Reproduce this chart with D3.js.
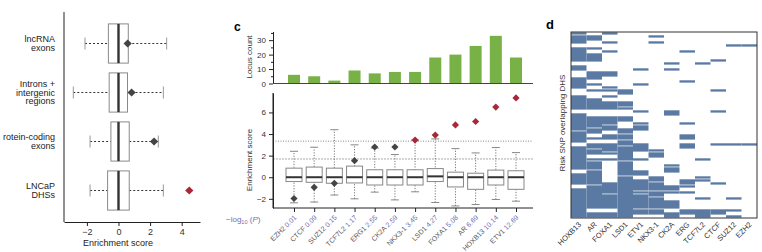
<!DOCTYPE html>
<html>
<head>
<meta charset="utf-8">
<script src="https://cdn.jsdelivr.net/npm/d3@7"></script>
<style>
  body { margin: 0; background: #fff; }
  svg { display: block; font-family: "Liberation Sans", Arial, sans-serif; }
</style>
</head>
<body>
<svg id="chart" width="762" height="252"></svg>
<script>
// panel b: enrichment score per genomic region
var regionLabels = [["lncRNA", "exons"], ["Introns +", "intergenic", "regions"], ["rotein-coding", "exons"], ["LNCaP", "DHSs"]];
var regionLow = [-2.12, -2.86, -1.8, -1.8];
var regionQ1 = [-0.64, -0.59, -0.48, -0.69];
var regionMedian = [0, 0, 0, 0];
var regionQ3 = [0.62, 0.57, 0.68, 0.68];
var regionHigh = [3.05, 2.84, 2.52, 2.84];
var regionScore = [0.58, 0.83, 2.25, 4.48];
var regionSignificant = [false, false, false, true];
var regionTicks = [-2, 0, 2, 4];

// panel c: factors, locus counts and enrichment boxes
var factors = ["EZH2", "CTCF", "SUZ12", "TCF7L2", "ERG1", "CK2A", "NKX3-1", "LSD1", "FOXA1", "AR", "HOXB13", "ETV1"];
var factorLogP = ["0.01", "0.09", "0.15", "1.17", "2.55", "2.59", "3.45", "4.27", "5.08", "6.69", "10.14", "12.69"];
var locusCount = [6, 5, 2, 9, 7, 8, 8, 18, 20, 26, 33, 18];
var factorLow = [-2.37, -2.3, -1.65, -2.0, -1.38, -2.1, -1.35, -2.34, -2.66, -2.53, -2.06, -2.22];
var factorQ1 = [-0.4, -0.47, -0.56, -0.53, -0.72, -0.72, -0.72, -0.4, -0.9, -1.12, -0.72, -1.12];
var factorMedian = [0, 0, 0, 0, 0, 0, 0, 0.08, 0, 0, 0, 0];
var factorQ3 = [0.84, 0.94, 0.84, 1.03, 0.69, 0.69, 0.69, 0.8, 0.47, 0.37, 0.66, 0.6];
var factorHigh = [2.4, 2.78, 4.4, 3.0, 2.7, 2.1, 3.44, 3.55, 2.65, 2.25, 2.75, 2.28];
var factorScore = [-1.97, -0.94, -0.56, 1.53, 2.8, 2.8, 3.44, 3.9, 4.84, 5.16, 6.5, 7.34];
var factorSignificant = [false, false, false, false, false, false, true, true, true, true, true, true];
var countTicks = [0, 10, 20, 30];
var scoreTicks = [-2, 0, 2, 4, 6];
var thresholds = [3.34, 1.69];

// panel d: risk SNPs (rows) overlapping DHS of each factor, as filled row ranges
var heatColumns = ["HOXB13", "AR", "FOXA1", "LSD1", "ETV1", "NKX3-1", "CK2A", "ERG", "TCF7L2", "CTCF", "SUZ12", "EZH2"];
var heatRowCount = 62;
var heatRanges = [
  [[0, 0], [1, 3], [5, 9], [11, 12], [15, 18], [21, 25], [27, 32], [33, 36], [38, 45], [47, 50], [52, 61]],
  [[1, 2], [5, 5], [7, 9], [13, 15], [17, 17], [19, 19], [22, 25], [28, 31], [32, 33], [35, 35], [37, 38], [39, 40], [42, 42], [43, 45], [46, 50], [51, 58], [60, 61]],
  [[0, 0], [3, 3], [6, 6], [13, 14], [18, 18], [19, 19], [21, 21], [23, 25], [28, 30], [31, 32], [34, 35], [37, 39], [40, 40], [42, 42], [50, 53], [54, 58], [60, 61]],
  [[19, 20], [23, 24], [25, 25], [28, 29], [32, 33], [34, 35], [36, 37], [38, 42], [43, 47], [48, 61]],
  [[12, 12], [17, 17], [26, 26], [30, 30], [31, 32], [37, 39], [42, 42], [46, 47], [49, 52], [53, 53], [54, 58], [59, 60]],
  [[1, 1], [3, 3], [39, 39], [40, 41], [48, 49], [50, 52], [53, 54], [55, 58], [59, 60]],
  [[10, 10], [12, 12], [26, 27], [44, 44], [45, 46], [51, 52], [53, 53], [56, 58], [60, 61]],
  [[6, 6], [16, 16], [30, 30], [34, 35], [37, 38], [49, 50], [51, 51], [53, 53], [59, 60]],
  [[10, 10], [42, 42], [48, 48], [49, 49], [55, 55], [59, 61]],
  [[9, 9], [19, 19], [26, 26], [37, 37], [50, 50], [59, 60]],
  [[4, 4], [37, 37], [55, 55], [59, 59], [61, 61]],
  [[4, 4], [37, 37]]
];

var RED = "#a8283a", DARK = "#444", GREEN = "#78b145", BLUE = "#5a7aa3", PCOL = "#6d70b3";
var svg = d3.select("#chart");

// diamond marker = a square turned by 45 degrees
function diamond(g, x, y, color, size) {
  g.append("path")
    .attr("d", d3.symbol().type(d3.symbolSquare).size(size)())
    .attr("transform", "translate(" + x + "," + y + ") rotate(45)")
    .attr("fill", color);
}

function minus(d) { return d < 0 ? "\u2212" + (-d) : d; }

function styleAxis(g) {
  g.selectAll(".domain").attr("stroke", "#222");
  g.selectAll(".tick line").attr("stroke", "#222");
  g.selectAll(".tick text").attr("fill", "#333").attr("font-size", 8);
}

// ---------- panel b ----------
function drawRegions() {
  var g = svg.append("g");
  var x = d3.scaleLinear().domain([-3.45, 5.16]).range([64, 200]);
  var y = d3.scaleBand().domain(d3.range(regionLabels.length)).range([19, 215]).paddingInner(0.2).paddingOuter(0.1);

  g.append("g").attr("transform", "translate(0,222)")
    .call(d3.axisBottom(x).tickValues(regionTicks).tickSize(4).tickSizeOuter(0).tickFormat(minus))
    .call(styleAxis)
    .call(function(a) { a.selectAll(".tick text").attr("font-size", 9); });
  g.append("line").attr("x1", 64).attr("x2", 64).attr("y1", 12).attr("y2", 222).attr("stroke", "#222");

  regionLabels.forEach(function(lines, i) {
    var cy = y(i) + y.bandwidth() / 2;
    var top = y(i), h = y.bandwidth();
    // whiskers
    g.append("line").attr("x1", x(regionLow[i])).attr("x2", x(regionQ1[i])).attr("y1", cy).attr("y2", cy)
      .attr("stroke", "#333").attr("stroke-dasharray", "2,2");
    g.append("line").attr("x1", x(regionQ3[i])).attr("x2", x(regionHigh[i])).attr("y1", cy).attr("y2", cy)
      .attr("stroke", "#333").attr("stroke-dasharray", "2,2");
    [regionLow[i], regionHigh[i]].forEach(function(v) {
      g.append("line").attr("x1", x(v)).attr("x2", x(v)).attr("y1", cy - 6).attr("y2", cy + 6).attr("stroke", "#999");
    });
    g.append("rect").attr("x", x(regionQ1[i])).attr("y", top).attr("width", x(regionQ3[i]) - x(regionQ1[i])).attr("height", h)
      .attr("fill", "#fff").attr("stroke", "#8a8a8a");
    g.append("line").attr("x1", x(regionMedian[i])).attr("x2", x(regionMedian[i])).attr("y1", top).attr("y2", top + h)
      .attr("stroke", "#333").attr("stroke-width", 2.4);
    diamond(g, x(regionScore[i]), cy, regionSignificant[i] ? RED : DARK, 34);

    var t = g.append("text").attr("text-anchor", "end").attr("font-size", 9).attr("fill", "#222");
    var y0 = cy - (lines.length - 1) * 4.4 + 3;
    lines.forEach(function(s, k) {
      t.append("tspan").attr("x", 55).attr("y", y0 + k * 8.8).text(s);
    });
  });

  g.append("text").attr("x", 118).attr("y", 246).attr("text-anchor", "middle").attr("font-size", 9).attr("fill", "#222")
    .text("Enrichment score");
}

// ---------- panel c ----------
function drawFactors() {
  var g = svg.append("g");
  var x = d3.scalePoint().domain(factors).range([294, 516]);

  g.append("text").attr("x", 234).attr("y", 31).attr("font-size", 12).attr("font-weight", "bold").text("c");

  // locus count bars
  var yc = d3.scaleLinear().domain([0, 36]).range([83.5, 31.5]);
  g.selectAll(".bar").data(factors).enter().append("rect")
    .attr("x", function(d) { return x(d) - 6; })
    .attr("y", function(d, i) { return yc(locusCount[i]); })
    .attr("width", 12)
    .attr("height", function(d, i) { return yc(0) - yc(locusCount[i]); })
    .attr("fill", GREEN);
  g.append("g").attr("transform", "translate(273,0)")
    .call(d3.axisLeft(yc).tickValues(countTicks).tickSize(4).tickSizeOuter(0))
    .call(styleAxis);
  g.append("g").attr("transform", "translate(273,0)")
    .call(d3.axisLeft(yc).tickValues([5, 15, 25, 35]).tickSize(2).tickFormat(""))
    .call(function(a) { a.select(".domain").remove(); a.selectAll("line").attr("stroke", "#222"); });
  g.append("line").attr("x1", 273).attr("x2", 533).attr("y1", yc(0)).attr("y2", yc(0)).attr("stroke", "#444");
  g.append("text").attr("transform", "translate(252,57) rotate(-90)").attr("text-anchor", "middle")
    .attr("font-size", 8).attr("fill", "#333").text("Locus count");

  // enrichment boxes
  var ys = d3.scaleLinear().domain([-2.85, 7.8]).range([208, 93]);
  thresholds.forEach(function(v, k) {
    g.append("line").attr("x1", 273).attr("x2", 533).attr("y1", ys(v)).attr("y2", ys(v))
      .attr("stroke", k == 0 ? "#888" : "#aaa").attr("stroke-dasharray", k == 0 ? "1,1.5" : "2,1");
  });
  factors.forEach(function(f, i) {
    var cx = x(f);
    g.append("line").attr("x1", cx).attr("x2", cx).attr("y1", ys(factorLow[i])).attr("y2", ys(factorHigh[i]))
      .attr("stroke", "#777").attr("stroke-dasharray", "1.2,1.5");
    [factorLow[i], factorHigh[i]].forEach(function(v) {
      g.append("line").attr("x1", cx - 4).attr("x2", cx + 4).attr("y1", ys(v)).attr("y2", ys(v)).attr("stroke", "#888");
    });
    g.append("rect").attr("x", cx - 8).attr("y", ys(factorQ3[i])).attr("width", 16)
      .attr("height", ys(factorQ1[i]) - ys(factorQ3[i])).attr("fill", "#fff").attr("stroke", "#888");
    g.append("line").attr("x1", cx - 8).attr("x2", cx + 8).attr("y1", ys(factorMedian[i])).attr("y2", ys(factorMedian[i]))
      .attr("stroke", "#333").attr("stroke-width", 2);
    diamond(g, cx, ys(factorScore[i]), factorSignificant[i] ? RED : DARK, 26);
  });
  g.append("g").attr("transform", "translate(273,0)")
    .call(d3.axisLeft(ys).tickValues(scoreTicks).tickSize(4).tickSizeOuter(0).tickFormat(minus))
    .call(styleAxis);
  g.append("line").attr("x1", 273).attr("x2", 273).attr("y1", 93).attr("y2", 208).attr("stroke", "#222");
  g.append("g").attr("transform", "translate(0,208)")
    .call(d3.axisBottom(x).tickSize(4).tickSizeOuter(0).tickFormat(""))
    .call(styleAxis)
    .call(function(a) { a.select(".domain").attr("d", "M273,0H533"); });
  g.append("text").attr("transform", "translate(252,160) rotate(-90)").attr("text-anchor", "middle")
    .attr("font-size", 8).attr("fill", "#333").text("Enrichment score");

  // rotated factor labels with -log10(P)
  factors.forEach(function(f, i) {
    var t = g.append("text").attr("transform", "translate(" + (x(f) + 3) + ",218) rotate(-45)")
      .attr("text-anchor", "end").attr("font-size", 7);
    t.append("tspan").attr("fill", "#555").text(f + " ");
    t.append("tspan").attr("fill", PCOL).text(factorLogP[i]);
  });
  var p = g.append("text").attr("x", 226).attr("y", 222).attr("font-size", 8).attr("fill", PCOL);
  p.append("tspan").text("\u2212log");
  p.append("tspan").attr("font-size", 5.5).attr("dy", 2).text("10");
  p.append("tspan").attr("dy", -2).text(" (");
  p.append("tspan").attr("font-style", "italic").text("P");
  p.append("tspan").text(")");
}

// ---------- panel d ----------
function drawHeatmap() {
  var g = svg.append("g");
  var x = d3.scaleBand().domain(heatColumns).range([571, 757]);
  var y = d3.scaleLinear().domain([0, heatRowCount]).range([32, 218]);

  g.append("text").attr("x", 546).attr("y", 29).attr("font-size", 13).attr("font-weight", "bold").text("d");

  heatColumns.forEach(function(c, i) {
    g.selectAll(".c" + i).data(heatRanges[i]).enter().append("rect")
      .attr("x", x(c))
      .attr("y", function(d) { return y(d[0]) + 0.3; })
      .attr("width", x.bandwidth())
      .attr("height", function(d) { return y(d[1] + 1) - y(d[0]) - 0.7; })
      .attr("fill", BLUE);
  });
  g.append("rect").attr("x", 571).attr("y", 32).attr("width", 186).attr("height", 186)
    .attr("fill", "none").attr("stroke", "#333");

  heatColumns.forEach(function(c) {
    g.append("text").attr("transform", "translate(" + (x(c) + x.bandwidth() / 2 + 3) + ",225) rotate(-45)")
      .attr("text-anchor", "end").attr("font-size", 7.5).attr("fill", "#333").text(c);
  });
  g.append("text").attr("transform", "translate(565,123) rotate(-90)").attr("text-anchor", "middle")
    .attr("font-size", 8).attr("fill", "#333").text("Risk SNP overlapping DHS");
}

drawRegions();
drawFactors();
drawHeatmap();
</script>
</body>
</html>
